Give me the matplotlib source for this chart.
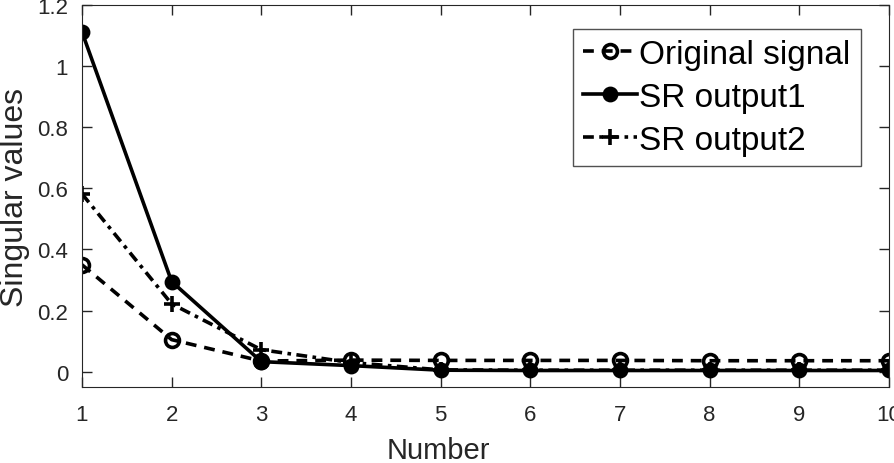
import numpy as np
import matplotlib
matplotlib.use("Agg")
import matplotlib.pyplot as plt

plt.rcParams['font.family'] = ['Liberation Sans', 'DejaVu Sans']

#==================================================================
number = [1, 2, 3, 4, 5, 6, 7, 8, 9, 10]
original = [0.35, 0.105, 0.035, 0.038, 0.037, 0.037, 0.037, 0.036, 0.036, 0.036]
sr_out1 = [1.112, 0.295, 0.033, 0.02, 0.005, 0.004, 0.004, 0.004, 0.004, 0.004]
sr_out2 = [0.582, 0.222, 0.072, 0.03, 0.006, 0.005, 0.005, 0.005, 0.005, 0.005]

#==================================================================
fig = plt.figure(figsize=(8.94, 4.64), dpi=100)
ax = fig.add_axes([0.0917, 0.1638, 0.9027, 0.8232])

ax.plot(number, original, color='k', lw=2.6, ls=(0, (3, 2.2)),
        marker='o', ms=10, mfc='none', mew=2.6, label='Original signal')
ax.plot(number, sr_out1, color='k', lw=2.6, ls='-',
        marker='o', ms=9, mfc='k', mew=2.4, label='SR output1')
ax.plot(number, sr_out2, color='k', lw=2.6, ls=(0, (3, 1.5, 1, 1.5)),
        marker='+', ms=12, mew=2.6, label='SR output2')

ax.set_xlim(1, 10)
ax.set_ylim(-0.05, 1.2)
ax.set_xticks(number)
ax.set_yticks([0, 0.2, 0.4, 0.6, 0.8, 1.0, 1.2])
ax.set_yticklabels(['0', '0.2', '0.4', '0.6', '0.8', '1', '1.2'])
ax.tick_params(direction='in', top=True, right=True, labelsize=16, length=7,
               width=1, colors='#262626', pad=10)
ax.tick_params(axis='x', pad=12)
for s in ax.spines.values():
    s.set_color('#262626')
ax.set_xlabel('Number', fontsize=21, color='#262626')
ax.set_ylabel('Singular values', fontsize=23, color='#262626')
ax.xaxis.set_label_coords(0.442, -0.128)
ax.yaxis.set_label_coords(-0.064, 0.5)

leg = ax.legend(loc='upper right', bbox_to_anchor=(0.965, 0.937), fontsize=24,
                frameon=True, fancybox=False, edgecolor='#262626',
                handlelength=1.6, handletextpad=0.08, borderpad=0.3,
                borderaxespad=0, labelspacing=0.36)
leg.get_frame().set_linewidth(1)

fig.savefig('out.png', dpi=100)
